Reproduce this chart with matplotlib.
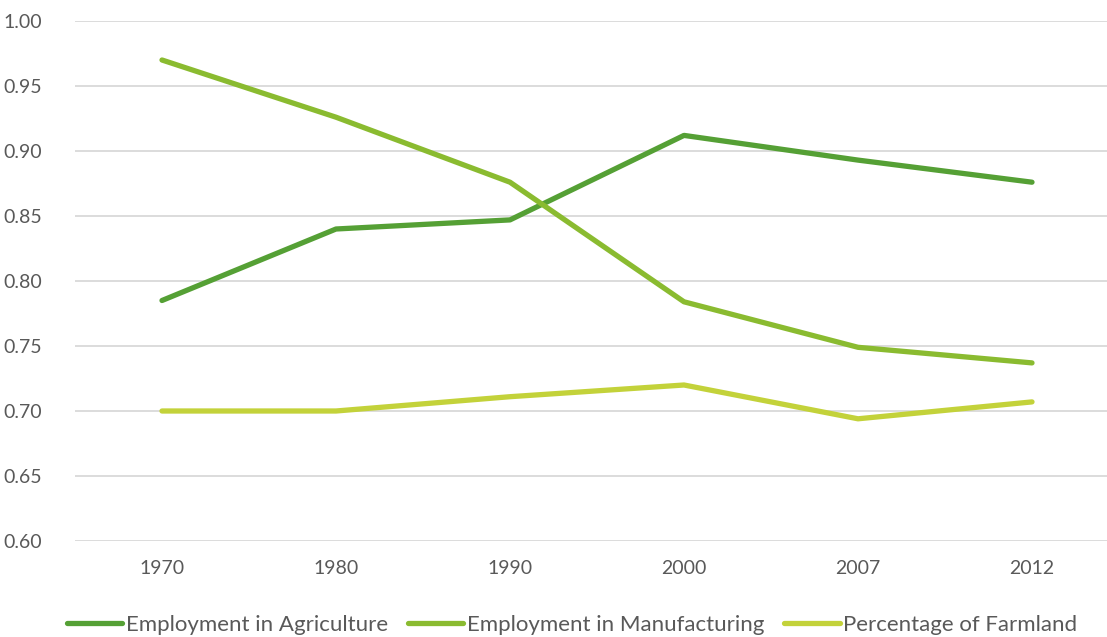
import matplotlib.pyplot as plt
import numpy as np

years = ['1970', '1980', '1990', '2000', '2007', '2012']
agriculture = [0.785, 0.840, 0.847, 0.912, 0.893, 0.876]
manufacturing = [0.970, 0.926, 0.876, 0.784, 0.749, 0.737]
farmland = [0.700, 0.700, 0.711, 0.720, 0.694, 0.707]

names = ['Employment in Agriculture', 'Employment in Manufacturing', 'Percentage of Farmland']
colors = ['#55A035', '#8ABB30', '#C3D23A']

plt.rcParams['font.family'] = ['Lato', 'DejaVu Sans']

fig = plt.figure(figsize=(11.07, 6.37), dpi=100)
ax = fig.add_axes([75/1107, 96/637, 1044/1107, 520/637])

x = np.arange(len(years))
for vals, name, c in zip([agriculture, manufacturing, farmland], names, colors):
    ax.plot(x, vals, color=c, linewidth=3.8, solid_capstyle='round',
            solid_joinstyle='round', label=name)

ax.set_xlim(-0.5, 5.5)
ax.set_ylim(0.60, 1.00)
ax.set_yticks(np.arange(0.60, 1.001, 0.05))
ax.set_yticklabels(['%.2f' % v for v in np.arange(0.60, 1.001, 0.05)])
ax.set_xticks(x)
ax.set_xticklabels(years)
ax.grid(axis='y', color='#D9D9D9', linewidth=1.3)
ax.set_axisbelow(True)
for s in ax.spines.values():
    s.set_visible(False)
ax.tick_params(length=0, labelsize=14, colors='#595959', pad=0)
ax.tick_params(axis='y', pad=24)
ax.tick_params(axis='x', pad=14)

fig.legend(loc='center', bbox_to_anchor=(572/1107, 1 - 625/637), ncol=3,
           frameon=False, fontsize=16, labelcolor='#595959',
           handlelength=2.5, handletextpad=0.15, columnspacing=0.9)

fig.savefig('out.png', dpi=100)
